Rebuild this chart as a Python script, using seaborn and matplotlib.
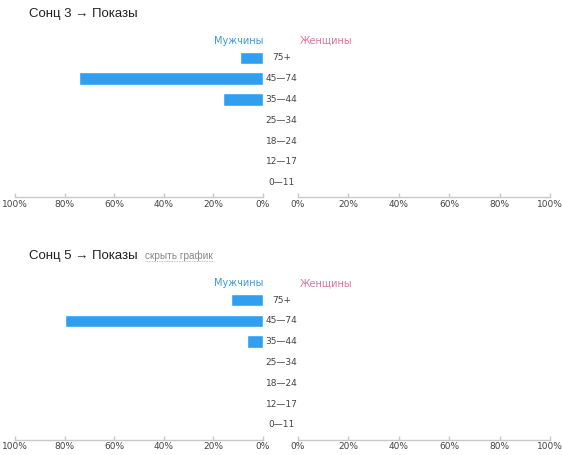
import pandas as pd
import matplotlib.pyplot as plt
import matplotlib.transforms as mtransforms
import seaborn as sns

# age groups, top to bottom
ages = ["75+", "45—74", "35—44", "25—34", "18—24", "12—17", "0—11"]

# share of impressions, %
men_sonc3 = [9.3, 74.2, 16.1, 0, 0, 0, 0]
women_sonc3 = [0, 0, 0, 0, 0, 0, 0]
men_sonc5 = [12.9, 79.8, 6.6, 0, 0, 0, 0]
women_sonc5 = [0, 0, 0, 0, 0, 0, 0]

tick_values = [0, 20, 40, 60, 80, 100]
tick_labels = ["0%", "20%", "40%", "60%", "80%", "100%"]

sns.set_theme(style="white")
plt.rcParams["font.family"] = ["DejaVu Sans"]

W, H = 562, 455
fig = plt.figure(figsize=(W / 100, H / 100), dpi=100)

BAR = "#319ff0"
AXIS = "#c8c8c8"
TEXT = "#444444"
ROW = 20.8       # row pitch, px
BOTTOM_GAP = 14.8  # last row centre to axis line, px


def px_axes(x0, y0, x1, y1):
    # axes from pixel box (top-left origin)
    return fig.add_axes([x0 / W, 1 - y1 / H, (x1 - x0) / W, (y1 - y0) / H])


def style_axis(ax):
    for s in ["top", "left", "right"]:
        ax.spines[s].set_visible(False)
    ax.spines["bottom"].set_color(AXIS)
    ax.spines["bottom"].set_linewidth(1)
    ax.set_yticks([])
    ax.set_ylabel("")
    ax.set_xlabel("")
    ax.set_xticks(tick_values)
    ax.set_xticklabels(tick_labels)
    ax.tick_params(axis="x", direction="in", length=3, width=1, color=AXIS,
                   labelsize=6.5, labelcolor=TEXT, pad=2, bottom=True)
    ax.set_ylim(6 + BOTTOM_GAP / ROW, -0.5)
    ax.set_facecolor("none")


def draw_chart(top, title, men, women, show_hide):
    # top = pixel y of the first row centre
    y0 = top - ROW / 2
    y1 = top + 6 * ROW + BOTTOM_GAP
    df_m = pd.DataFrame({"age": ages, "share": men})
    df_w = pd.DataFrame({"age": ages, "share": women})

    axl = px_axes(15, y0, 263, y1)
    sns.barplot(data=df_m, x="share", y="age", orient="h", color=BAR,
                saturation=1, width=0.6, ax=axl)
    axl.set_xlim(100, 0)
    style_axis(axl)

    axr = px_axes(298, y0, 550, y1)
    sns.barplot(data=df_w, x="share", y="age", orient="h", color="#e8699a",
                saturation=1, width=0.6, ax=axr)
    axr.set_xlim(0, 100)
    style_axis(axr)

    # age labels between the two halves
    tr = mtransforms.blended_transform_factory(fig.transFigure, axl.transData)
    for i, a in enumerate(ages):
        axl.text(281.5 / W, i, a, transform=tr, ha="center", va="center",
                 fontsize=6.5, color=TEXT, clip_on=False)

    ly = 1 - (top - 16.8) / H
    fig.text(263 / W, ly, "Мужчины", ha="right", va="center",
             fontsize=7, color="#3d9ad8")
    fig.text(300 / W, ly, "Женщины", ha="left", va="center",
             fontsize=7, color="#e4739e")

    ty = 1 - (top - 43.8) / H
    fig.text(28.5 / W, ty, title, ha="left", va="center", fontsize=9.5,
             color="#222222", family="Liberation Sans")
    if show_hide:
        fig.text(145 / W, ty, "скрыть график", ha="left", va="center",
                 fontsize=7.2, color="#888888", family="Liberation Sans")
        fig.add_artist(plt.Line2D([145 / W, 214 / W], [ty - 5 / H, ty - 5 / H],
                                  color="#aaaaaa", lw=0.6, ls=(0, (1, 1)),
                                  transform=fig.transFigure))


draw_chart(57.8, "Сонц 3 → Показы", men_sonc3, women_sonc3, False)
draw_chart(300, "Сонц 5 → Показы", men_sonc5, women_sonc5, True)

fig.savefig("out.png", dpi=100, facecolor="white")
